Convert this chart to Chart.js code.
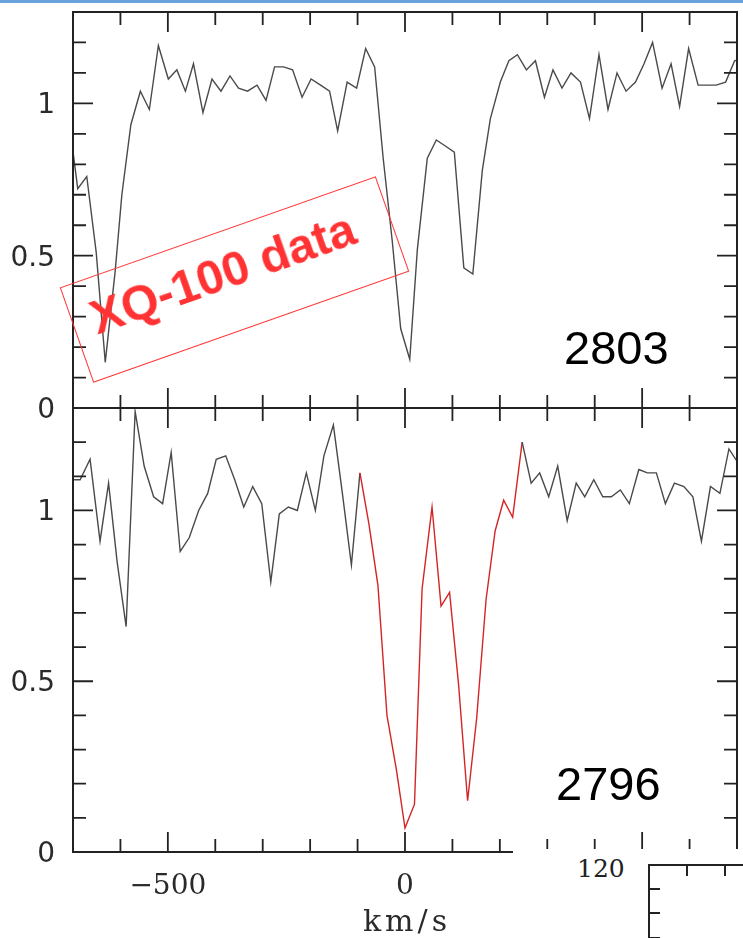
<!DOCTYPE html>
<html>
<head>
<meta charset="utf-8">
<script src="https://cdn.jsdelivr.net/npm/chart.js@4.4.1/dist/chart.umd.min.js"></script>
<style>
  body { margin: 0; width: 743px; height: 938px; position: relative; overflow: hidden; background: #fff; }
  canvas { position: absolute; left: 0; }
  #bar { position: absolute; left: 0; top: 0; width: 743px; height: 3px; background: #6aa3db; }
  .ion { position: absolute; font: 47px "Liberation Sans", Arial, sans-serif; color: #000; line-height: 1; }
  #stamp { position: absolute; left: 67px; top: 229px; width: 333px; height: 99px; border: 1px solid #f33;
           transform: rotate(-19.4deg); }
  #stamp span { position: absolute; left: 0; right: 0; top: 18px; text-align: center; color: #f33;
                font: bold 48px "Liberation Sans", Arial, sans-serif; transform: translate(-9px, -6px); white-space: nowrap; }
  #cover { position: absolute; left: 513px; top: 849px; width: 230px; height: 89px; background: #fff; }
  #cover .num { position: absolute; left: 64px; top: 5px; font: 25px "DejaVu Serif", serif; color: #222; }
  #cover .box { position: absolute; left: 135px; top: 15px; width: 120px; height: 100px;
                border-left: 2px solid #222; border-top: 2px solid #222; }
  .tk { position: absolute; background: #222; }
</style>
</head>
<body>
<div id="bar"></div>
<canvas id="c1" width="743" height="430" style="top:0"></canvas>
<canvas id="c2" width="743" height="538" style="top:400px"></canvas>
<div class="ion" style="left:564px; top:324px">2803</div>
<div class="ion" style="left:556px; top:760px">2796</div>
<div id="stamp"><span>XQ-100 data</span></div>
<div id="cover">
  <div class="num">120</div>
  <div class="box">
    <div class="tk" style="left:36px; top:0; width:2px; height:10px"></div>
    <div class="tk" style="left:74px; top:0; width:2px; height:10px"></div>
    <div class="tk" style="left:0; top:22px; width:10px; height:2px"></div>
    <div class="tk" style="left:0; top:46px; width:10px; height:2px"></div>
    <div class="tk" style="left:0; top:71px; width:10px; height:2px"></div>
  </div>
</div>
<script>
// MgII 2803 panel (km/s, normalised flux)
const topVel = [-709, -690, -671, -651, -632, -611, -597, -578, -558, -539, -520, -499, -481, -463, -446, -426,
  -407, -388, -369, -351, -332, -312, -293, -275, -256, -237, -217, -198, -178, -159, -142, -122, -102, -83, -64,
  -46, -27, -9, 10, 26, 47, 66, 85, 104, 124, 143, 163, 180, 201, 219, 237, 256, 275, 294, 312, 331, 350, 370,
  389, 409, 428, 447, 466, 486, 504, 522, 542, 561, 579, 598, 618, 637, 656, 676, 695, 714];
const topFlux = [0.95, 0.72, 0.76, 0.51, 0.15, 0.45, 0.70, 0.93, 1.04, 0.98, 1.19, 1.08, 1.11, 1.04, 1.13, 0.97,
  1.08, 1.04, 1.09, 1.05, 1.04, 1.06, 1.01, 1.12, 1.12, 1.11, 1.02, 1.08, 1.06, 1.04, 0.91, 1.07, 1.05, 1.18, 1.12,
  0.82, 0.55, 0.26, 0.16, 0.52, 0.82, 0.88, 0.86, 0.84, 0.46, 0.44, 0.78, 0.95, 1.07, 1.14, 1.16, 1.11, 1.14, 1.02,
  1.11, 1.05, 1.10, 1.07, 0.95, 1.16, 0.98, 1.10, 1.04, 1.07, 1.13, 1.20, 1.05, 1.13, 0.99, 1.18, 1.06, 1.06, 1.06,
  1.07, 1.14, 1.15];

// MgII 2796 panel
const bottomVel = [-704, -685, -664, -643, -625, -607, -588, -569, -550, -530, -511, -493, -474, -455, -435, -416,
  -398, -378, -359, -340, -321, -302, -283, -265, -246, -227, -208, -189, -171, -151, -132, -113, -95, -76, -57,
  -38, -18, 0, 20, 36, 57, 76, 94, 113, 132, 151, 171, 190, 208, 227, 247, 266, 284, 303, 322, 342, 361, 379, 398,
  417, 435, 454, 473, 493, 511, 530, 549, 568, 588, 607, 625, 644, 664, 683, 702];
const bottomFlux = [1.09, 1.09, 1.15, 0.91, 1.08, 0.85, 0.66, 1.29, 1.13, 1.04, 1.02, 1.17, 0.88, 0.92, 1.00, 1.05,
  1.15, 1.16, 1.09, 1.01, 1.07, 1.02, 0.79, 0.99, 1.01, 1.00, 1.11, 1.00, 1.16, 1.25, 1.05, 0.84, 1.11, 0.96, 0.78,
  0.40, 0.24, 0.07, 0.14, 0.77, 1.01, 0.72, 0.76, 0.49, 0.15, 0.39, 0.74, 0.94, 1.03, 0.98, 1.20, 1.08, 1.11, 1.04,
  1.13, 0.97, 1.08, 1.04, 1.09, 1.04, 1.04, 1.06, 1.02, 1.12, 1.11, 1.11, 1.02, 1.08, 1.07, 1.04, 0.91, 1.07, 1.05,
  1.18, 1.14];
const redFrom = -95, redTo = 247; // absorption window drawn in red

const xTicks = [-600, -500, -400, -300, -200, -100, 0, 100, 200, 300, 400, 500, 600];
const xMajor = [-500, 0, 500];
const yTicks = [0.1, 0.2, 0.3, 0.4, 0.5, 0.6, 0.7, 0.8, 0.9, 1, 1.1, 1.2];
const yMajor = [0, 0.5, 1];

const frame = {
  id: 'frame',
  afterDatasetsDraw(chart, args, opts) {
    const { ctx, chartArea: a, scales: { x, y } } = chart;
    ctx.save();
    ctx.strokeStyle = '#222';
    ctx.lineWidth = 2;
    ctx.strokeRect(a.left, a.top, a.right - a.left, a.bottom - a.top);
    ctx.lineWidth = 1.8;
    ctx.beginPath();
    xTicks.forEach(v => {
      const px = x.getPixelForValue(v);
      const len = xMajor.includes(v) ? 20 : 13;
      ctx.moveTo(px, a.top); ctx.lineTo(px, a.top + len);
      ctx.moveTo(px, a.bottom); ctx.lineTo(px, a.bottom - len);
    });
    yTicks.forEach(v => {
      const py = y.getPixelForValue(v);
      const len = yMajor.includes(v) ? 20 : 13;
      ctx.moveTo(a.left, py); ctx.lineTo(a.left + len, py);
      ctx.moveTo(a.right, py); ctx.lineTo(a.right - len, py);
    });
    ctx.stroke();

    ctx.fillStyle = '#2a2a2a';
    ctx.font = '28px "DejaVu Sans"';
    ctx.textAlign = 'right';
    ctx.textBaseline = 'alphabetic';
    yMajor.forEach(v => ctx.fillText(String(v), 55, y.getPixelForValue(v) + 10));

    if (opts.xLabels) {
      ctx.font = '28px "DejaVu Serif"';
      ctx.textAlign = 'center';
      xMajor.forEach(v => ctx.fillText(v < 0 ? '\u2212' + (-v) : String(v), x.getPixelForValue(v), a.bottom + 42));
      ctx.font = '30px "DejaVu Serif"';
      if ('letterSpacing' in ctx) ctx.letterSpacing = '4px';
      ctx.fillText('km/s', x.getPixelForValue(0) + 2, a.bottom + 79);
    }
    ctx.restore();
  }
};

function panel(id, vel, flux, pad, xLabels) {
  return new Chart(document.getElementById(id), {
    type: 'line',
    data: {
      datasets: [{
        data: vel.map((v, i) => ({ x: v, y: flux[i] })),
        borderColor: '#4a4a4a',
        borderWidth: 1.4,
        pointRadius: 0,
        tension: 0,
        segment: {
          borderColor: c => (id === 'c2' && c.p0.parsed.x >= redFrom && c.p1.parsed.x <= redTo) ? '#d42525' : '#4a4a4a'
        }
      }]
    },
    options: {
      responsive: false,
      animation: false,
      layout: { padding: pad },
      scales: {
        x: { type: 'linear', min: -700, max: 700, display: false },
        y: { min: 0, max: 1.3, display: false }
      },
      plugins: { legend: { display: false }, tooltip: { enabled: false }, frame: { xLabels } }
    },
    plugins: [frame]
  });
}

panel('c1', topVel, topFlux, { left: 73, right: 6, top: 12, bottom: 22 }, false);
panel('c2', bottomVel, bottomFlux, { left: 73, right: 6, top: 8, bottom: 86 }, true);
</script>
</body>
</html>
